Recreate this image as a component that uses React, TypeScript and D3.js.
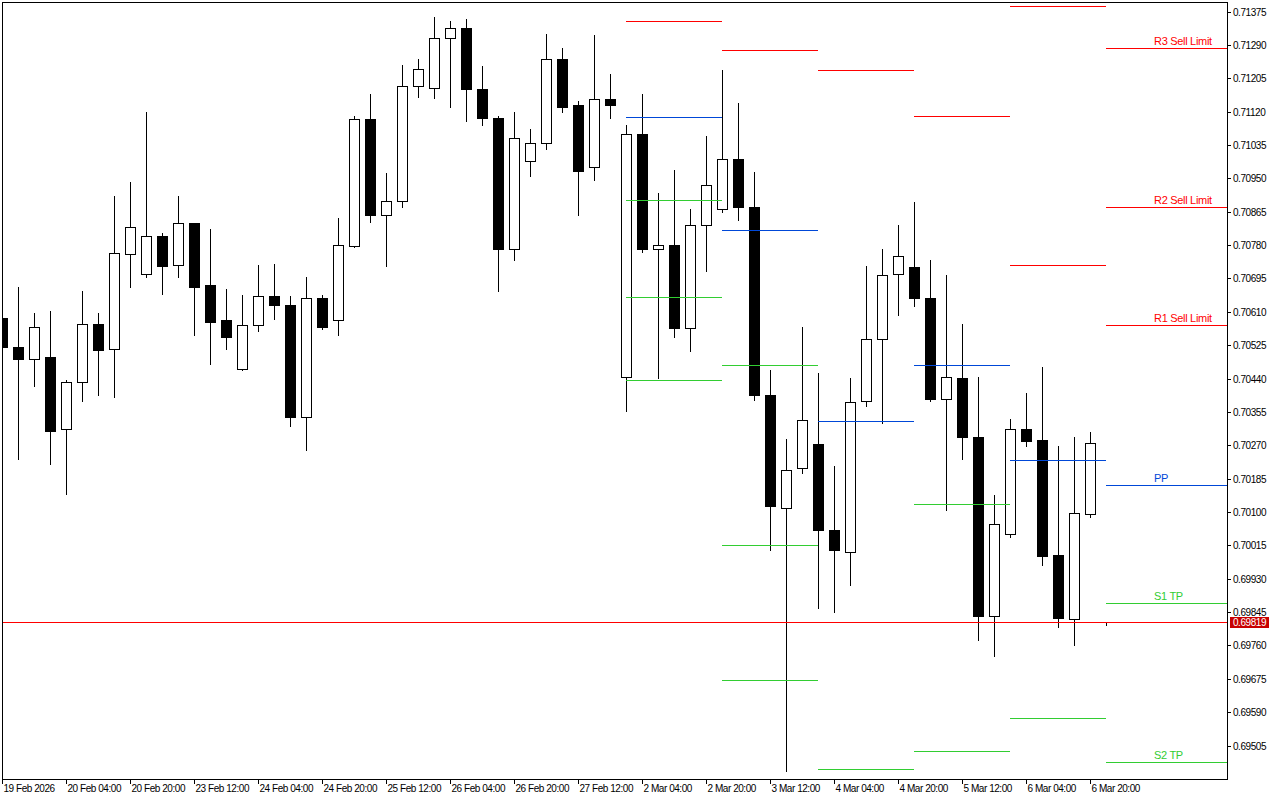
import React from "react";
import * as d3 from "d3";

// ---- candle data (H4 bars) ----
const opens = [0.70595,0.70521,0.70491,0.70496,0.70312,0.70432,0.70580,0.70516,0.70758,0.70707,0.70802,0.70730,0.70837,0.70679,0.70588,0.70465,0.70577,0.70651,0.70628,0.70343,0.70644,0.70590,0.70779,0.71102,0.70858,0.70893,0.71186,0.71181,0.71309,0.71334,0.71179,0.71105,0.70769,0.70995,0.71041,0.71255,0.71136,0.70978,0.71153,0.70445,0.71064,0.70771,0.70781,0.70570,0.70830,0.70871,0.71000,0.70878,0.70397,0.70111,0.70211,0.70274,0.70053,0.69999,0.70384,0.70542,0.70707,0.70723,0.70646,0.70389,0.70442,0.70290,0.69836,0.70045,0.70312,0.70284,0.69991,0.69828,0.70096,0.69819];
const highs = [0.70616,0.70674,0.70606,0.70611,0.70437,0.70664,0.70606,0.70904,0.70942,0.71118,0.70812,0.70904,0.70837,0.70820,0.70667,0.70654,0.70730,0.70733,0.70651,0.70700,0.70654,0.70848,0.71110,0.71164,0.70965,0.71240,0.71255,0.71362,0.71350,0.71355,0.71237,0.71110,0.71120,0.71077,0.71319,0.71281,0.71146,0.71316,0.71217,0.71087,0.71164,0.70914,0.70972,0.70871,0.71057,0.71225,0.71141,0.70967,0.70463,0.70287,0.70572,0.70453,0.70218,0.70442,0.70728,0.70769,0.70830,0.70891,0.70743,0.70705,0.70580,0.70445,0.70144,0.70338,0.70404,0.70470,0.70269,0.70292,0.70305,0.69819];
const lows = [0.70501,0.70236,0.70420,0.70223,0.70147,0.70384,0.70397,0.70394,0.70672,0.70700,0.70656,0.70700,0.70552,0.70478,0.70516,0.70463,0.70562,0.70593,0.70318,0.70259,0.70567,0.70552,0.70774,0.70840,0.70728,0.70878,0.71158,0.71156,0.71133,0.71095,0.71085,0.70662,0.70743,0.70957,0.71026,0.71118,0.70858,0.70947,0.71105,0.70358,0.70763,0.70442,0.70547,0.70511,0.70713,0.70865,0.70845,0.70386,0.70004,0.69439,0.70200,0.69856,0.69844,0.69915,0.70371,0.70328,0.70603,0.70626,0.70384,0.70106,0.70234,0.69775,0.69732,0.70037,0.70267,0.69966,0.69808,0.69762,0.70088,0.69813];
const closes = [0.70521,0.70491,0.70572,0.70307,0.70432,0.70580,0.70514,0.70761,0.70827,0.70802,0.70728,0.70837,0.70674,0.70583,0.70547,0.70577,0.70651,0.70628,0.70343,0.70646,0.70572,0.70781,0.71102,0.70858,0.70893,0.71186,0.71230,0.71309,0.71334,0.71179,0.71105,0.70769,0.71054,0.71039,0.71255,0.71133,0.70970,0.71153,0.71138,0.71064,0.70769,0.70781,0.70570,0.70830,0.70934,0.71000,0.70876,0.70399,0.70114,0.70208,0.70335,0.70053,0.70002,0.70381,0.70542,0.70705,0.70753,0.70644,0.70389,0.70445,0.70290,0.69836,0.70070,0.70312,0.70282,0.69989,0.69831,0.70098,0.70277,0.69819];

// ---- time axis labels ----
const timeLabels = ["19 Feb 2026","20 Feb 04:00","20 Feb 20:00","23 Feb 12:00","24 Feb 04:00","24 Feb 20:00","25 Feb 12:00","26 Feb 04:00","26 Feb 20:00","27 Feb 12:00","2 Mar 04:00","2 Mar 20:00","3 Mar 12:00","4 Mar 04:00","4 Mar 20:00","5 Mar 12:00","6 Mar 04:00","6 Mar 20:00"];
const timeLabelBars = [0,4,8,12,16,20,24,28,32,36,40,44,48,52,56,60,64,68];

// ---- price axis ticks ----
const priceTicks = [0.71375,0.71290,0.71205,0.71120,0.71035,0.70950,0.70865,0.70780,0.70695,0.70610,0.70525,0.70440,0.70355,0.70270,0.70185,0.70100,0.70015,0.69930,0.69845,0.69760,0.69675,0.69590,0.69505];

// ---- daily pivot levels (2 Mar .. 9 Mar) ----
const pivotDays = ["2 Mar","3 Mar","4 Mar","5 Mar","6 Mar","9 Mar"];
const pivotStartBar = [39,45,51,57,63,69];
const r3 = [null,null,null,null,null,0.71283];
const r2 = [null,null,null,null,0.71390,0.70877];
const r1 = [0.71351,0.71277,0.71227,0.71110,0.70730,0.70577];
const pp = [0.71107,0.70819,0.70333,0.70475,0.70233,0.70169];
const s1 = [0.70896,0.70475,0.69444,0.70121,0.69574,0.69868];
const s2 = [0.70649,0.70017,null,0.69490,null,0.69463];
const s3 = [0.70437,0.69671,null,null,null,null];
const levelNames = ["R3 Sell Limit","R2 Sell Limit","R1 Sell Limit","PP","S1 TP","S2 TP",""];

const lastPrice = 0.69819;

const RED = "#ff0000";
const BLUE = "#0048d8";
const GREEN = "#32cd32";
const FONT = "'Liberation Sans', Arial, sans-serif";

export default function App() {
  const left = 2, right = 1227, top = 2, bottom = 779;
  const x = d3.scaleLinear().domain([0, 69]).range([2, 1106]);
  const y = d3.scaleLinear().domain([0.69505, 0.71375]).range([745.5, 11.6]);
  const py = (v: number) => Math.round(y(v));

  const levels: { vals: (number | null)[]; color: string; name: string }[] = [
    { vals: r3, color: RED, name: levelNames[0] },
    { vals: r2, color: RED, name: levelNames[1] },
    { vals: r1, color: RED, name: levelNames[2] },
    { vals: pp, color: BLUE, name: levelNames[3] },
    { vals: s1, color: GREEN, name: levelNames[4] },
    { vals: s2, color: GREEN, name: levelNames[5] },
    { vals: s3, color: GREEN, name: levelNames[6] },
  ];

  const lastDay = pivotDays.length - 1;
  const lpY = py(lastPrice);

  return (
    <div style={{ position: "fixed", left: 0, top: 0, width: 1280, height: 800, background: "#fff" }}>
      <svg width={1280} height={800} style={{ display: "block" }} fontFamily={FONT}>
        <defs>
          <clipPath id="plot">
            <rect x={left} y={top} width={right - left} height={bottom - top} />
          </clipPath>
        </defs>
        <rect x={0} y={0} width={1280} height={800} fill="#fff" />
        <g clipPath="url(#plot)" shapeRendering="crispEdges">
          {opens.map((o, i) => {
            const c = closes[i];
            const cx = Math.round(x(i));
            const yh = py(highs[i]);
            const yl = py(lows[i]);
            const yt = py(Math.max(o, c));
            const yb = py(Math.min(o, c));
            const bull = c > o;
            return (
              <g key={i}>
                <line x1={cx + 0.5} x2={cx + 0.5} y1={yh} y2={yl + 1} stroke="#000" strokeWidth={1} />
                {yt === yb ? (
                  <line x1={cx - 5} x2={cx + 6} y1={yt + 0.5} y2={yt + 0.5} stroke="#000" strokeWidth={1} />
                ) : (
                  <rect x={cx - 4.5} y={yt + 0.5} width={10} height={yb - yt} fill={bull ? "#fff" : "#000"} stroke="#000" strokeWidth={1} />
                )}
              </g>
            );
          })}
          {levels.map((lv, li) =>
            lv.vals.map((v, d) => {
              if (v === null) return null;
              const x1 = Math.round(x(pivotStartBar[d]));
              const x2 = d < lastDay ? Math.round(x(pivotStartBar[d + 1])) : right;
              const yy = py(v) + 0.5;
              return <line key={`${li}-${d}`} x1={x1} x2={x2} y1={yy} y2={yy} stroke={lv.color} strokeWidth={1} />;
            })
          )}
          <line x1={left} x2={right} y1={lpY + 0.5} y2={lpY + 0.5} stroke={RED} strokeWidth={1} />
        </g>
        {/* level labels for the current day */}
        {levels.map((lv, li) => {
          const v = lv.vals[lastDay];
          if (v === null || !lv.name) return null;
          return (
            <text key={`lbl-${li}`} x={1154} y={py(v) - 3} fontSize={11} fill={lv.color} letterSpacing={-0.3}>
              {lv.name}
            </text>
          );
        })}
        {/* frame */}
        <rect x={left + 0.5} y={top + 0.5} width={right - left} height={bottom - top} fill="none" stroke="#000" strokeWidth={1} shapeRendering="crispEdges" />
        {/* price axis */}
        <g shapeRendering="crispEdges">
          {priceTicks.map((t, i) => (
            <line key={i} x1={right} x2={right + 4} y1={py(t) + 0.5} y2={py(t) + 0.5} stroke="#000" />
          ))}
        </g>
        {priceTicks.map((t, i) => (
          <text key={i} x={right + 6} y={py(t) + 4} fontSize={10} fill="#000" letterSpacing={-0.45}>
            {d3.format(".5f")(t)}
          </text>
        ))}
        <rect x={right + 3} y={lpY - 5} width={39} height={11} fill="#c80000" />
        <text x={right + 6} y={lpY + 4} fontSize={10} fill="#fff" letterSpacing={-0.45}>
          {d3.format(".5f")(lastPrice)}
        </text>
        {/* time axis */}
        <g shapeRendering="crispEdges">
          {timeLabelBars.map((b, i) => (
            <line key={i} x1={Math.round(x(b)) + 0.5} x2={Math.round(x(b)) + 0.5} y1={bottom} y2={bottom + 5} stroke="#000" />
          ))}
        </g>
        {timeLabels.map((lab, i) => (
          <text key={i} x={Math.round(x(timeLabelBars[i])) + 1.5} y={792} fontSize={10} fill="#000" letterSpacing={-0.45}>
            {lab}
          </text>
        ))}
      </svg>
    </div>
  );
}
